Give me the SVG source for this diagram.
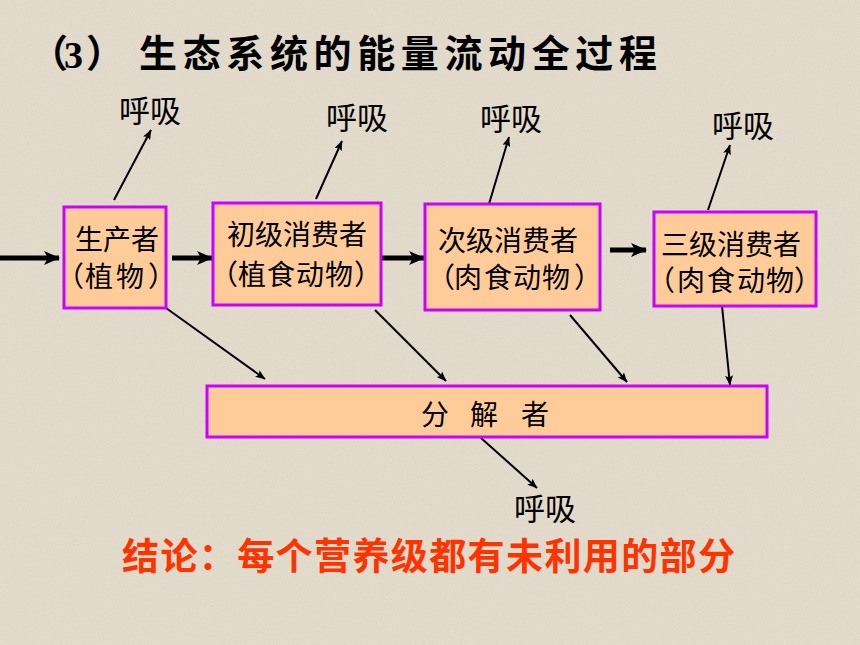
<svg xmlns="http://www.w3.org/2000/svg" width="860" height="645" viewBox="0 0 860 645">
<defs>
<style>
.box{fill:#ffcc99;stroke:#cc00ff;stroke-width:3}
.t{font-family:"Noto Sans CJK SC","Liberation Sans",sans-serif;fill:#000}
.n{font-size:28px}
.m{text-anchor:middle}
.s{text-anchor:start}
.r{font-size:31px;text-anchor:middle}
.thick{stroke:#000;stroke-width:5;fill:none}
.thin{stroke:#000;stroke-width:2;fill:none}
</style>
<marker id="big" markerUnits="userSpaceOnUse" viewBox="0 0 16 14" markerWidth="16" markerHeight="14" refX="15" refY="7" orient="auto">
<path d="M0,0 L16,7 L0,14 L4,7 Z" fill="#000"/>
</marker>
<marker id="sm" markerUnits="userSpaceOnUse" viewBox="0 0 10 8" markerWidth="10" markerHeight="8" refX="9.5" refY="4" orient="auto">
<path d="M0,0 L10,4 L0,8 L2,4 Z" fill="#000"/>
</marker>
<filter id="grain" x="0" y="0" width="100%" height="100%">
<feTurbulence type="fractalNoise" baseFrequency="0.9" numOctaves="2" seed="3" result="n"/>
<feColorMatrix in="n" type="matrix" values="0 0 0 0 0.55  0 0 0 0 0.5  0 0 0 0 0.42  0 0 0 -1.6 0.9" result="g"/>
<feComposite in="g" in2="SourceGraphic" operator="in"/>
</filter>
</defs>
<rect width="860" height="645" fill="#e3dbcc"/>
<rect width="860" height="645" fill="#e3dbcc" filter="url(#grain)" opacity="0.35"/>

<text id="title" class="t" y="67" font-weight="bold" font-size="38"><tspan x="30">（</tspan><tspan x="64" y="68" font-family="Liberation Serif,serif">3</tspan><tspan x="86" y="67">）</tspan><tspan x="139" textLength="518" lengthAdjust="spacing">生态系统的能量流动全过程</tspan></text>

<g id="connectors">
<line class="thick" x1="0" y1="258" x2="59" y2="258" marker-end="url(#big)"/>
<line class="thick" x1="172" y1="258" x2="212" y2="258" marker-end="url(#big)"/>
<line class="thick" x1="381" y1="258" x2="424" y2="258" marker-end="url(#big)"/>
<line class="thick" x1="610" y1="250" x2="646" y2="250" marker-end="url(#big)"/>
<line class="thin" x1="114" y1="200" x2="151" y2="130" marker-end="url(#sm)"/>
<line class="thin" x1="316" y1="199" x2="342" y2="141" marker-end="url(#sm)"/>
<line class="thin" x1="489" y1="204" x2="509" y2="137" marker-end="url(#sm)"/>
<line class="thin" x1="708" y1="210" x2="730" y2="145" marker-end="url(#sm)"/>
<line class="thin" x1="166" y1="308" x2="265" y2="379" marker-end="url(#sm)"/>
<line class="thin" x1="375" y1="310" x2="446" y2="381" marker-end="url(#sm)"/>
<line class="thin" x1="570" y1="315" x2="627" y2="382" marker-end="url(#sm)"/>
<line class="thin" x1="722" y1="306" x2="730" y2="385" marker-end="url(#sm)"/>
<line class="thin" x1="481" y1="438" x2="537" y2="488" stroke-width="1.3" marker-end="url(#sm)"/>
</g>

<g id="producer">
<rect class="box" x="64" y="207" width="102" height="101"/>
<text class="t n"><tspan class="m" x="117" y="250">生产者</tspan><tspan class="s" x="56 85 116 148" y="287">（植物）</tspan></text>
</g>
<g id="primary">
<rect class="box" x="213" y="203" width="168" height="102"/>
<text class="t n"><tspan class="m" x="297" y="245">初级消费者</tspan><tspan class="s" x="210 238 267 296 325 354" y="285">（植食动物）</tspan></text>
</g>
<g id="secondary">
<rect class="box" x="425" y="204" width="175" height="106"/>
<text class="t n"><tspan class="m" x="508" y="251">次级消费者</tspan><tspan class="s" x="427 454 484 513 542 574" y="288">（肉食动物）</tspan></text>
</g>
<g id="tertiary">
<rect class="box" x="654" y="212" width="162" height="94"/>
<text class="t n"><tspan class="m" x="731" y="255">三级消费者</tspan><tspan class="s" x="647 677 707 737 766 794" y="291">（肉食动物）</tspan></text>
</g>
<g id="decomposer">
<rect class="box" x="207" y="386" width="560" height="51"/>
<text class="t" x="421 470 521" y="425" font-size="28">分解者</text>
</g>

<g id="resp-labels">
<text class="t r" x="150" y="122">呼吸</text>
<text class="t r" x="357" y="129">呼吸</text>
<text class="t r" x="511" y="130">呼吸</text>
<text class="t r" x="743" y="137">呼吸</text>
<text class="t r" x="545" y="520">呼吸</text>
</g>

<text class="t" x="122" y="570" font-size="37" font-weight="bold" style="fill:#ff3300" textLength="613" lengthAdjust="spacing">结论：每个营养级都有未利用的部分</text>
</svg>
